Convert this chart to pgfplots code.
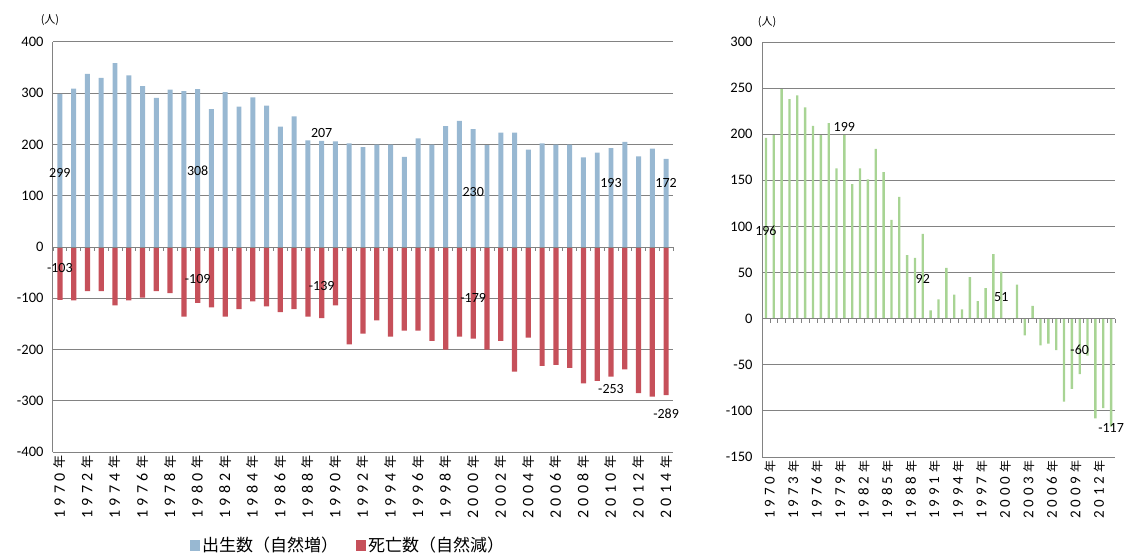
\documentclass[border=0pt]{standalone}
\usepackage{pgfplots}
\pgfplotsset{compat=1.18}
\usepackage{pgfplotstable}
\usepackage{fontspec}
\setmainfont{Carlito}
\newfontfamily\jp{Noto Sans CJK JP}

\definecolor{birth}{RGB}{152,184,210}
\definecolor{death}{RGB}{198,80,90}
\definecolor{netgreen}{RGB}{168,212,148}
\definecolor{gridc}{RGB}{130,130,130}

% year label with spaced digits, as in the source
\def\yrlab#1#2#3#4{#1\kern\yrk#2\kern\yrk#3\kern\yrk#4\kern\yrk{\jp\yrj 年}}
\def\yrk{4pt}
\def\yrj{}

% births and deaths per year
\pgfplotstableread{
year birth death
1970 299 -103
1971 309 -104
1972 338 -86
1973 330 -86
1974 359 -114
1975 335 -104
1976 314 -99
1977 291 -86
1978 307 -90
1979 304 -136
1980 308 -109
1981 269 -118
1982 302 -136
1983 274 -121
1984 292 -106
1985 276 -116
1986 235 -127
1987 255 -121
1988 208 -136
1989 207 -139
1990 206 -114
1991 202 -190
1992 195 -169
1993 200 -143
1994 200 -175
1995 176 -163
1996 212 -163
1997 200 -183
1998 236 -200
1999 246 -175
2000 230 -179
2001 199 -200
2002 223 -183
2003 223 -243
2004 190 -177
2005 202 -232
2006 200 -230
2007 200 -236
2008 175 -266
2009 184 -261
2010 193 -253
2011 205 -239
2012 177 -285
2013 192 -292
2014 172 -289
}\vitaltable

% natural increase
\pgfplotstableread{
year net
1970 196
1971 199
1972 249
1973 238
1974 242
1975 229
1976 209
1977 199
1978 212
1979 163
1980 199
1981 146
1982 163
1983 151
1984 184
1985 159
1986 107
1987 132
1988 69
1989 66
1990 92
1991 9
1992 21
1993 55
1994 26
1995 10
1996 45
1997 19
1998 33
1999 70
2000 51
2001 -1
2002 37
2003 -18
2004 14
2005 -29
2006 -27
2007 -34
2008 -90
2009 -76
2010 -60
2011 -40
2012 -108
2013 -97
2014 -117
}\nettable

\pgfplotsset{
  panel/.style={
    scale only axis,
    xmin=1969.5, xmax=2014.5,
    ymajorgrids,
    grid style={gridc, line width=1pt},
    axis x line*=bottom, axis y line*=left,
    x axis line style={draw=none},
    y axis line style={gridc, line width=1pt, -},
    major tick length=0pt,
    /pgf/number format/assume math mode=true,
    y tick label style={font=\fontsize{14.5}{16}\selectfont, xshift=-6pt},
    x tick label style={rotate=90, anchor=east},
    clip=false,
  },
}
\tikzset{lbl/.style={font=\fontsize{14}{16}\selectfont, inner sep=0pt}}

\begin{document}
\begin{tikzpicture}
\useasboundingbox (-53pt,-105pt) rectangle (1076pt,452pt);

\begin{axis}[panel,
  at={(0pt,0pt)}, anchor=south west,
  width=620pt, height=410pt,
  ymin=-400, ymax=400, ytick={-400,-300,...,400},
  xtick={1970,1972,...,2014},
  xticklabels={\yrlab 1970,\yrlab 1972,\yrlab 1974,\yrlab 1976,\yrlab 1978,\yrlab 1980,\yrlab 1982,\yrlab 1984,\yrlab 1986,\yrlab 1988,\yrlab 1990,\yrlab 1992,\yrlab 1994,\yrlab 1996,\yrlab 1998,\yrlab 2000,\yrlab 2002,\yrlab 2004,\yrlab 2006,\yrlab 2008,\yrlab 2010,\yrlab 2012,\yrlab 2014},
  x tick label style={font=\def\yrk{4.5pt}\def\yrj{\fontsize{13}{15}\selectfont}\fontsize{16}{18}\selectfont},
  legend style={at={(0.476,-0.227)}, anchor=center, draw=none, fill=none,
    font=\jp\fontsize{17}{19}\selectfont,
    /tikz/every even column/.append style={column sep=16pt}},
  legend columns=2,
  legend image code/.code={\fill[#1] (0pt,-6pt) rectangle (10pt,5pt);},
]
\addplot[ybar, bar width=0.36, bar shift=0pt, fill=birth, draw=none]
  table[x=year, y=birth] {\vitaltable};
\addlegendentry{出生数（自然増）}
\addplot[ybar, bar width=0.38, bar shift=0pt, fill=death, draw=none]
  table[x=year, y=death] {\vitaltable};
\addlegendentry{死亡数（自然減）}

\draw[gridc, line width=1pt] (axis cs:1969.5,0) -- (axis cs:2014.5,0);
\pgfplotsinvokeforeach{1969.5,1970.5,...,2014.5}{
  \draw[gridc, line width=0.6pt] (axis cs:#1,0) -- ++(0pt,-4pt);
}

\node[lbl] at (axis cs:1970,144) {299};
\node[lbl] at (axis cs:1980,148) {308};
\node[lbl] at (axis cs:1989,222) {207};
\node[lbl] at (axis cs:2000,107) {230};
\node[lbl] at (axis cs:2010,125) {193};
\node[lbl] at (axis cs:2014,125) {172};
\node[lbl] at (axis cs:1970,-41) {-103};
\node[lbl] at (axis cs:1980,-62) {-109};
\node[lbl] at (axis cs:1989,-76) {-139};
\node[lbl] at (axis cs:2000,-99) {-179};
\node[lbl] at (axis cs:2010,-277) {-253};
\node[lbl] at (axis cs:2014,-326) {-289};

\node[font=\jp\fontsize{11}{13}\selectfont, inner sep=0pt]
  at ([xshift=-3pt, yshift=22pt]rel axis cs:0,1) {(人)};
\end{axis}

\begin{axis}[panel,
  at={(709pt,-5pt)}, anchor=south west,
  width=353pt, height=415pt,
  ymin=-150, ymax=300, ytick={-150,-100,...,300},
  xtick={1970,1973,...,2012},
  xticklabels={\yrlab 1970,\yrlab 1973,\yrlab 1976,\yrlab 1979,\yrlab 1982,\yrlab 1985,\yrlab 1988,\yrlab 1991,\yrlab 1994,\yrlab 1997,\yrlab 2000,\yrlab 2003,\yrlab 2006,\yrlab 2009,\yrlab 2012},
  x tick label style={font=\def\yrk{4pt}\def\yrj{\fontsize{12}{14}\selectfont}\fontsize{15}{17}\selectfont, yshift=-4pt},
]
\addplot[ybar, bar width=0.3, bar shift=0pt, fill=netgreen, draw=none]
  table[x=year, y=net] {\nettable};

\draw[gridc, line width=1pt] (axis cs:1969.5,0) -- (axis cs:2014.5,0);
\pgfplotsinvokeforeach{1969.5,1970.5,...,2014.5}{
  \draw[gridc, line width=0.6pt] (axis cs:#1,0) -- ++(0pt,-4pt);
}

\node[lbl] at (axis cs:1970,95) {196};
\node[lbl] at (axis cs:1980,208) {199};
\node[lbl] at (axis cs:1990,43) {92};
\node[lbl] at (axis cs:2000,23) {51};
\node[lbl] at (axis cs:2010,-34) {-60};
\node[lbl] at (axis cs:2014,-119) {-117};

\node[font=\jp\fontsize{11}{13}\selectfont, inner sep=0pt]
  at ([xshift=5pt, yshift=20pt]rel axis cs:0,1) {(人)};
\end{axis}
\end{tikzpicture}
\end{document}
